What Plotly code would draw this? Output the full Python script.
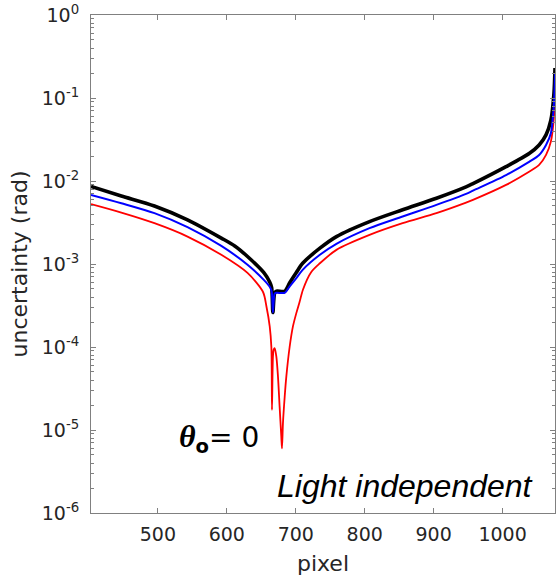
import plotly.graph_objects as go

# ---- data ----
black_x = [403, 447, 495, 543, 592, 611.5, 630, 654, 662, 665, 666.8, 669.5, 672, 684, 691, 700.8, 710, 735, 759, 807, 855, 904, 947, 957, 1005, 1039, 1053, 1063, 1070, 1074.5, 1076]
black_y = [8.6e-3, 6.6e-3, 5.0e-3, 3.4e-3, 2.05e-3, 1.65e-3, 1.23e-3, 7.8e-4, 6.1e-4, 5.2e-4, 2.6e-4, 4.5e-4, 4.7e-4, 4.7e-4, 5.9e-4, 7.9e-4, 1.02e-3, 1.55e-3, 2.14e-3, 3.24e-3, 4.5e-3, 6.2e-3, 8.5e-3, 9.3e-3, 1.49e-2, 2.16e-2, 2.72e-2, 3.6e-2, 5.4e-2, 1.14e-1, 2.3e-1]

blue_x = [403, 447, 495, 543, 592, 630, 654, 662, 665, 666.8, 669.5, 672, 684, 691, 700.8, 710, 735, 759, 807, 855, 904, 947, 957, 1005, 1039, 1053, 1063, 1070, 1074.5, 1076.2]
blue_y = [6.8e-3, 5.4e-3, 4.1e-3, 2.78e-3, 1.65e-3, 9.8e-4, 6.4e-4, 5.35e-4, 4.7e-4, 2.6e-4, 4.4e-4, 4.5e-4, 4.5e-4, 5.35e-4, 6.75e-4, 8.5e-4, 1.29e-3, 1.75e-3, 2.7e-3, 3.73e-3, 5.15e-3, 7.0e-3, 7.66e-3, 1.18e-2, 1.71e-2, 2.06e-2, 2.72e-2, 3.76e-2, 8.6e-2, 2.0e-1]

red_x = [403, 447, 495, 543, 592, 630, 652.5, 657.4, 662.2, 664.6, 665.5, 666.9, 668, 669.4, 671.8, 674.2, 676.6, 679.0, 680.0, 681.4, 683.9, 686.3, 691.1, 695.9, 700.8, 705.6, 710.4, 722.5, 735, 759, 807, 855, 904, 947, 957, 1005, 1039, 1053, 1063, 1070, 1074.5, 1076.3]
red_y = [5.26e-3, 4.16e-3, 3.1e-3, 2.14e-3, 1.29e-3, 7.8e-4, 4.6e-4, 3.1e-4, 1.77e-4, 1.0e-4, 1.75e-5, 7.7e-5, 9.3e-5, 9.7e-5, 7.7e-5, 4.4e-5, 1.9e-5, 8.4e-6, 6.0e-6, 1.2e-5, 2.5e-5, 4.4e-5, 1.0e-4, 1.77e-4, 2.56e-4, 3.5e-4, 4.9e-4, 8.0e-4, 1.02e-3, 1.48e-3, 2.24e-3, 3.1e-3, 4.1e-3, 5.49e-3, 5.92e-3, 8.97e-3, 1.3e-2, 1.56e-2, 2.06e-2, 2.98e-2, 5.96e-2, 1.65e-1]

x_ticks = [500, 600, 700, 800, 900, 1000]
y_tickvals = [1e-6, 1e-5, 1e-4, 1e-3, 1e-2, 1e-1, 1]
y_ticktext = ["10<sup>-6</sup>", "10<sup>-5</sup>", "10<sup>-4</sup>", "10<sup>-3</sup>",
              "10<sup>-2</sup>", "10<sup>-1</sup>", "10<sup>0</sup>"]
y_minor = [m * 10.0 ** e for e in range(-6, 0) for m in range(2, 10)]

AX = "#808080"
TXT = "#262626"
FONT = "DejaVu Sans"

fig = go.Figure()
fig.add_trace(go.Scatter(x=red_x, y=red_y, mode="lines",
                         line=dict(color="#ff0000", width=1.8, shape="spline", smoothing=0.8), showlegend=False))
fig.add_trace(go.Scatter(x=black_x, y=black_y, mode="lines",
                         line=dict(color="#000000", width=3.6, shape="spline", smoothing=0.8), showlegend=False))
fig.add_trace(go.Scatter(x=blue_x, y=blue_y, mode="lines",
                         line=dict(color="#0000ff", width=2, shape="spline", smoothing=0.8), showlegend=False))

fig.update_layout(
    width=557, height=576,
    margin=dict(l=91, r=2, t=15, b=63, autoexpand=False),
    plot_bgcolor="white", paper_bgcolor="white",
    font=dict(family=FONT, color=TXT, size=19),
    xaxis=dict(
        range=[403, 1076], tickvals=x_ticks, ticks="inside", ticklen=5, tickcolor=AX,
        showline=True, linecolor=AX, linewidth=1, mirror="ticks", showgrid=False, zeroline=False,
        automargin=False, ticklabelstandoff=4,
        tickfont=dict(size=19, color=TXT, family=FONT),
        title=dict(text="pixel", font=dict(size=22, color=TXT, family=FONT), standoff=12),
    ),
    yaxis=dict(
        type="log", range=[-6, 0], tickvals=y_tickvals, ticktext=y_ticktext,
        ticks="inside", ticklen=5, tickcolor=AX,
        minor=dict(tickvals=y_minor, ticks="inside", ticklen=3, tickcolor=AX, showgrid=False),
        showline=True, linecolor=AX, linewidth=1, mirror="ticks", showgrid=False, zeroline=False,
        automargin=False, ticklabelstandoff=7,
        tickfont=dict(size=19, color=TXT, family=FONT),
        title=dict(text="uncertainty (rad)", font=dict(size=22, color=TXT, family=FONT), standoff=8),
    ),
    annotations=[
        dict(xref="paper", yref="paper", x=0.275, y=0.15, xanchor="center", yanchor="middle",
             text="<span style='font-family:Liberation Serif;font-size:32px'><b><i>θ</i></b></span><sub><b>o</b></sub>= 0",
             showarrow=False, font=dict(size=28, color="#000000", family=FONT)),
        dict(xref="paper", yref="paper", x=0.956, y=0.055, xanchor="right", yanchor="middle",
             text="<i>Light independent</i>", showarrow=False,
             font=dict(size=32, color="#000000", family="Liberation Sans")),
    ],
)

fig.write_html("out.html", config={"displayModeBar": False},
               post_script="document.body.style.margin='0';document.body.style.overflow='hidden';")
